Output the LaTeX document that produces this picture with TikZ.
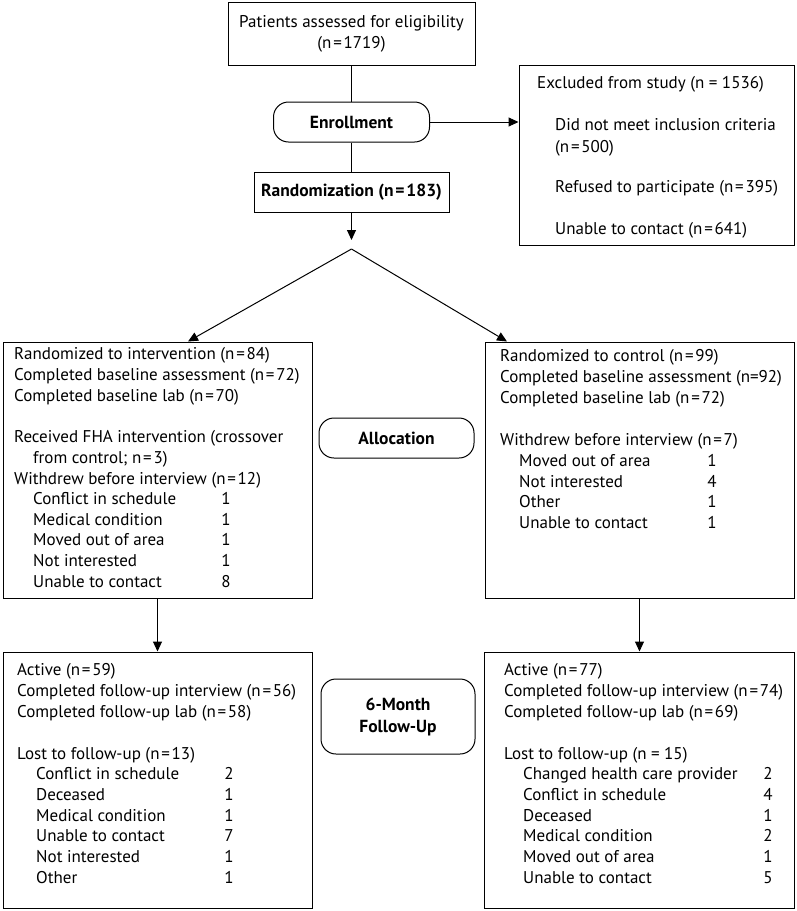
\documentclass[tikz,border=0pt]{standalone}
\usepackage{fontspec}
\setmainfont{PT Sans}
\usetikzlibrary{arrows.meta}
\newcommand{\myn}[1]{(n\kern1.8pt=\kern1.8pt#1)}
\begin{document}
\begin{tikzpicture}[x=1pt,y=-1pt,
  box/.style={draw,line width=1pt,inner sep=0pt},
  rbox/.style={draw,line width=1pt,rounded corners=15pt,inner sep=0pt,align=center,
    font=\bfseries\fontsize{17.5}{22}\selectfont},
  txt/.style={anchor=mid west,inner sep=0pt,font=\fontsize{17}{20}\selectfont},
  num/.style={txt,anchor=mid},
  arr/.style={line width=1pt,-{Triangle[length=10pt,width=9pt]}},
  ln/.style={line width=1pt}]
\useasboundingbox (0,0) rectangle (797,911);

% boxes
\node[box,minimum width=247pt,minimum height=63pt,align=center,
  font=\fontsize{17}{21}\selectfont] (top) at (351.5,33.5)
  {Patients assessed for eligibility\\\myn{1719}};
\node[rbox,minimum width=156pt,minimum height=40pt] (enr) at (351.5,122) {Enrollment};
\node[box,minimum width=195pt,minimum height=40pt,font=\bfseries\fontsize{17.5}{20}\selectfont]
  (rand) at (351.5,192) {Randomization \myn{183}};
\node[box,minimum width=275pt,minimum height=180pt] (exc) at (656.5,155) {};
\node[box,minimum width=309pt,minimum height=256pt] (la) at (157.5,470) {};
\node[rbox,minimum width=155pt,minimum height=40pt] (alloc) at (396.5,438) {Allocation};
\node[box,minimum width=309pt,minimum height=256pt] (ra) at (639.5,470) {};
\node[box,minimum width=309pt,minimum height=256pt] (bl) at (157.5,780) {};
\node[rbox,minimum width=154pt,minimum height=75pt] (fu) at (398,716.5) {6-Month\\Follow-Up};
\node[box,minimum width=310pt,minimum height=256pt] (br) at (639,780) {};

% excluded text
\node[txt] (e1) at (537,86) {Excluded from study (n = 1536)};
\node[txt] (e2) at (555,128) {Did not meet inclusion criteria};
\node[txt] (e3) at (555,150) {\myn{500}};
\node[txt] (e4) at (555,190) {Refused to participate \myn{395}};
\node[txt] (e5) at (555,232) {Unable to contact \myn{641}};

% left allocation text
\foreach \x/\y/\t [count=\i] in {
  14/357/{Randomized to intervention \myn{84}},
  14/378/{Completed baseline assessment \myn{72}},
  14/399/{Completed baseline lab \myn{70}},
  14/440/{Received FHA intervention (crossover},
  33/461/{from control; n\kern1.8pt=\kern1.8pt3)},
  14/482/{Withdrew before interview \myn{12}}}
  \node[txt] (lat\i) at (\x,\y) {\t};
\foreach \y/\t/\n [count=\i] in {
  502/{Conflict in schedule}/1,
  523/{Medical condition}/1,
  543/{Moved out of area}/1,
  564/{Not interested}/1,
  585/{Unable to contact}/8}
  {\node[txt] (las\i) at (33,\y) {\t};
   \node[num] (lan\i) at (226,\y) {\n};}

% right allocation text
\foreach \y/\t [count=\i] in {
  359/{Randomized to control \myn{99}},
  380/{Completed baseline assessment (n=92)},
  401/{Completed baseline lab \myn{72}},
  443/{Withdrew before interview \myn{7}}}
  \node[txt] (rat\i) at (500,\y) {\t};
\foreach \y/\t/\n [count=\i] in {
  464/{Moved out of area}/1,
  485/{Not interested}/4,
  505/{Other}/1,
  526/{Unable to contact}/1}
  {\node[txt] (ras\i) at (519,\y) {\t};
   \node[num] (ran\i) at (712,\y) {\n};}

% bottom left text
\foreach \y/\t [count=\i] in {
  673/{Active \myn{59}},
  694/{Completed follow-up interview \myn{56}},
  715/{Completed follow-up lab \myn{58}},
  757/{Lost to follow-up \myn{13}}}
  \node[txt] (blt\i) at (17,\y) {\t};
\foreach \y/\t/\n [count=\i] in {
  777/{Conflict in schedule}/2,
  798/{Deceased}/1,
  819/{Medical condition}/1,
  839/{Unable to contact}/7,
  860/{Not interested}/1,
  881/{Other}/1}
  {\node[txt] (bls\i) at (36,\y) {\t};
   \node[num] (bln\i) at (229,\y) {\n};}

% bottom right text
\foreach \y/\t [count=\i] in {
  673/{Active \myn{77}},
  694/{Completed follow-up interview \myn{74}},
  715/{Completed follow-up lab \myn{69}},
  757/{Lost to follow-up (n = 15)}}
  \node[txt] (brt\i) at (504,\y) {\t};
\foreach \y/\t/\n [count=\i] in {
  777/{Changed health care provider}/2,
  798/{Conflict in schedule}/4,
  819/{Deceased}/1,
  839/{Medical condition}/2,
  860/{Moved out of area}/1,
  881/{Unable to contact}/5}
  {\node[txt] (brs\i) at (523,\y) {\t};
   \node[num] (brn\i) at (768,\y) {\n};}

% connectors
\coordinate (tip) at (351.5,240);
\coordinate (split) at (351.5,249);
\draw[ln] (top.south) -- (enr.north);
\draw[ln] (enr.south) -- (rand.north);
\draw[arr] (rand.south) -- (tip);
\draw[arr] (split) -- ([xshift=30.5pt]la.north);
\draw[arr] (split) -- ([xshift=-132.5pt]ra.north);
\draw[arr] (enr.east) -- (enr.east -| exc.west);
\draw[arr] (la.south) -- (la.south |- bl.north);
\draw[arr] (ra.south) -- (ra.south |- br.north);
\end{tikzpicture}
\end{document}
